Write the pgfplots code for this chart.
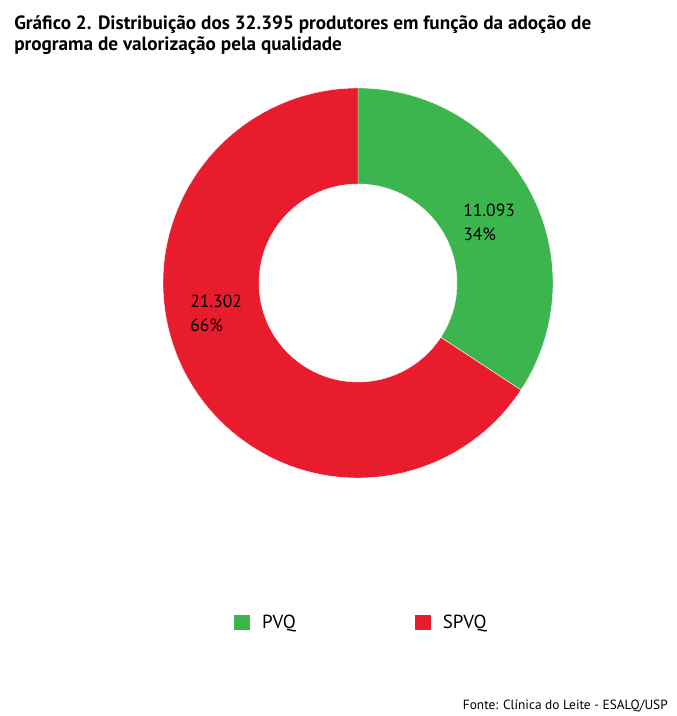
\documentclass[border=0pt]{standalone}
\usepackage{pgfplots}
\pgfplotsset{compat=1.18}
\usepackage{pgfplotstable}
\usetikzlibrary{calc}
\usepackage{fontspec}
\setmainfont{PT Sans}
\definecolor{pvq}{HTML}{3DB54F}
\definecolor{spvq}{HTML}{E91C2E}
\pgfplotstableread{
label value
PVQ 11093
SPVQ 21302
}\datatable
\pgfplotstablegetelem{0}{value}\of\datatable \let\va\pgfplotsretval
\pgfplotstablegetelem{1}{value}\of\datatable \let\vb\pgfplotsretval
\edef\angEnd{\fpeval{round(90-360*\va/(\va+\vb),3)}}
\begin{document}
\begin{tikzpicture}
\path[use as bounding box] (0pt,0pt) rectangle (507pt,537pt);
\node[anchor=base west, inner sep=0, font=\bfseries\fontsize{14.4}{17}\selectfont] at (10.5pt,514.5pt) {Gráfico 2. Distribuição dos 32.395 produtores em função da adoção de};
\node[anchor=base west, inner sep=0, font=\bfseries\fontsize{14.4}{17}\selectfont] at (10.5pt,498.75pt) {programa de valorização pela qualidade};
\begin{axis}[at={(268.5pt,324.75pt)}, anchor=center, width=292.5pt, height=292.5pt, scale only axis,
  xmin=-1, xmax=1, ymin=-1, ymax=1, hide axis,
  legend columns=2,
  legend style={at={(0.51,-0.37)}, anchor=center, draw=none, fill=none, font=\fontsize{14.2}{16}\selectfont,
    /tikz/every even column/.append style={column sep=87.5pt}},
  legend image code/.code={\fill[#1] (0pt,-5.6pt) rectangle (11.25pt,5.6pt); \path[draw=none,fill=none] (0pt,0pt) -- (18.5pt,0pt);},
]
\addplot[draw=none, forget plot] coordinates {(0,0)};
\fill[pvq, draw=white, line width=0.3pt] (axis cs:0,1) arc[start angle=90, end angle=\angEnd, radius=146.25pt]
  -- ($(axis cs:0,0)+(\angEnd:74.25pt)$) arc[start angle=\angEnd, end angle=90, radius=74.25pt] -- cycle;
\fill[spvq, draw=white, line width=0.3pt] ($(axis cs:0,0)+(\angEnd:146.25pt)$) arc[start angle=\angEnd, end angle=-270, radius=146.25pt]
  -- (axis cs:0,0.5077) arc[start angle=-270, end angle=\angEnd, radius=74.25pt] -- cycle;
\addlegendimage{pvq}
\addlegendentry{PVQ}
\addlegendimage{spvq}
\addlegendentry{SPVQ}
\end{axis}
\node[anchor=base west, inner sep=0, font=\fontsize{13.2}{15}\selectfont] at (347.25pt,374.25pt) {11.093};
\node[anchor=base west, inner sep=0, font=\fontsize{13.2}{15}\selectfont] at (347.25pt,356.25pt) {34\%};
\node[anchor=base west, inner sep=0, font=\fontsize{13.2}{15}\selectfont] at (142.5pt,306pt) {21.302};
\node[anchor=base west, inner sep=0, font=\fontsize{13.2}{15}\selectfont] at (142.5pt,288pt) {66\%};
\node[anchor=base east, inner sep=0, font=\fontsize{10}{12}\selectfont] at (501pt,5.25pt) {Fonte: Clínica do Leite - ESALQ/USP};
\end{tikzpicture}
\end{document}
